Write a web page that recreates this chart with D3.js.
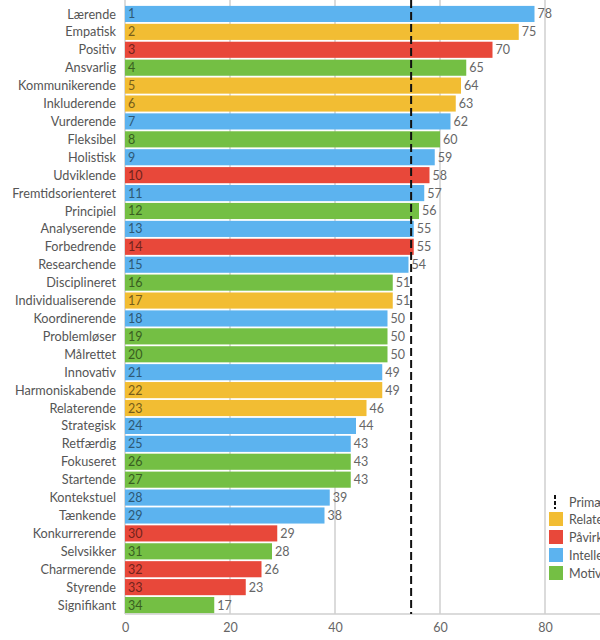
<!DOCTYPE html>
<html>
<head>
<meta charset="utf-8">
<script src="https://cdn.jsdelivr.net/npm/d3@7"></script>
<style>
  body { margin: 0; background: #fff; overflow: hidden; }
  svg { display: block; font-family: Lato, "Open Sans", sans-serif; }
</style>
</head>
<body>
<svg id="chart" width="600" height="640"></svg>
<script>
const categories = ["Lærende", "Empatisk", "Positiv", "Ansvarlig", "Kommunikerende", "Inkluderende",
  "Vurderende", "Fleksibel", "Holistisk", "Udviklende", "Fremtidsorienteret", "Principiel",
  "Analyserende", "Forbedrende", "Researchende", "Disciplineret", "Individualiserende", "Koordinerende",
  "Problemløser", "Målrettet", "Innovativ", "Harmoniskabende", "Relaterende", "Strategisk",
  "Retfærdig", "Fokuseret", "Startende", "Kontekstuel", "Tænkende", "Konkurrerende",
  "Selvsikker", "Charmerende", "Styrende", "Signifikant"];
const values = [78, 75, 70, 65, 64, 63, 62, 60, 59, 58, 57, 56, 55, 55, 54, 51, 51, 50,
  50, 50, 49, 49, 46, 44, 43, 43, 43, 39, 38, 29, 28, 26, 23, 17];
// R = relaterende, P = påvirkende, I = intellektuel, M = motiverende
const groups = ["I", "R", "P", "M", "R", "R", "I", "M", "I", "P", "I", "M", "I", "P", "I", "M", "R", "I",
  "M", "M", "I", "R", "R", "I", "I", "M", "M", "I", "I", "P", "M", "P", "P", "M"];
const groupKeys = ["R", "P", "I", "M"];
const groupLabels = ["Relaterende", "Påvirkende", "Intellektuelle", "Motiverende"];
const primaryLabel = "Primære styrker";
const threshold = 54.5;
const xTicks = [0, 20, 40, 60, 80];

const svg = d3.select("#chart");
const plotLeft = 125, plotRight = 545, plotTop = 5, plotBottom = 614;

const x = d3.scaleLinear().domain([0, 80]).range([plotLeft, plotRight]);
const y = d3.scaleBand().domain(d3.range(categories.length)).range([plotTop, plotBottom]).paddingInner(0.1).paddingOuter(0.05);
const color = d3.scaleOrdinal().domain(groupKeys).range(["#f2bd33", "#e8483a", "#5cb3ef", "#74bf44"]);

// grid
svg.append("g")
  .selectAll("line")
  .data(xTicks)
  .join("line")
  .attr("x1", d => x(d)).attr("x2", d => x(d))
  .attr("y1", 0).attr("y2", plotBottom)
  .attr("stroke", "#cfcfcf")
  .attr("stroke-width", 1.5);

svg.append("line")
  .attr("x1", plotLeft).attr("x2", 600)
  .attr("y1", plotBottom).attr("y2", plotBottom)
  .attr("stroke", "#cfcfcf")
  .attr("stroke-width", 1.5);

// x axis labels
const xAxis = svg.append("g")
  .attr("transform", `translate(0,${plotBottom})`)
  .call(d3.axisBottom(x).tickValues(xTicks).tickSize(0).tickPadding(9));
xAxis.select(".domain").remove();
xAxis.selectAll("text").attr("font-size", 12.5).attr("fill", "#666").attr("font-family", "Lato, sans-serif");

const rows = svg.append("g")
  .selectAll("g")
  .data(values.map((v, i) => ({v, i, name: categories[i], g: groups[i]})))
  .join("g");

rows.append("rect")
  .attr("x", x(0))
  .attr("y", d => y(d.i))
  .attr("width", d => x(d.v) - x(0))
  .attr("height", y.bandwidth())
  .attr("fill", d => color(d.g));

rows.append("text")
  .attr("x", x(0) + 3)
  .attr("y", d => y(d.i) + y.bandwidth() / 2)
  .attr("dy", "0.36em")
  .attr("font-size", 12.5)
  .attr("fill", d => d3.color(color(d.g)).darker(2))
  .text(d => d.i + 1);

rows.append("text")
  .attr("x", d => x(d.v) + 3)
  .attr("y", d => y(d.i) + y.bandwidth() / 2)
  .attr("dy", "0.36em")
  .attr("font-size", 12.5)
  .attr("fill", "#666")
  .text(d => d.v);

rows.append("text")
  .attr("x", plotLeft - 9)
  .attr("y", d => y(d.i) + y.bandwidth() / 2)
  .attr("dy", "0.36em")
  .attr("text-anchor", "end")
  .attr("font-size", 12.7)
  .attr("fill", "#555")
  .text(d => d.name);

// threshold line
svg.append("line")
  .attr("x1", x(threshold)).attr("x2", x(threshold))
  .attr("y1", 0).attr("y2", plotBottom)
  .attr("stroke", "#111")
  .attr("stroke-width", 2)
  .attr("stroke-dasharray", "8,4");

// legend
const legend = svg.append("g").attr("transform", "translate(549,494)");
legend.append("line")
  .attr("x1", 6).attr("x2", 6).attr("y1", 1).attr("y2", 15)
  .attr("stroke", "#111").attr("stroke-width", 2).attr("stroke-dasharray", "4,2");
legend.append("text")
  .attr("x", 20).attr("y", 8).attr("dy", "0.36em")
  .attr("font-size", 12.5).attr("fill", "#555")
  .text(primaryLabel);

const items = legend.selectAll("g.item")
  .data(groupKeys)
  .join("g")
  .attr("class", "item")
  .attr("transform", (d, i) => `translate(0,${18 + i * 18})`);
items.append("rect")
  .attr("width", 14).attr("height", 14)
  .attr("fill", d => color(d));
items.append("text")
  .attr("x", 20).attr("y", 7).attr("dy", "0.36em")
  .attr("font-size", 12.5).attr("fill", "#555")
  .text((d, i) => groupLabels[i]);
</script>
</body>
</html>
